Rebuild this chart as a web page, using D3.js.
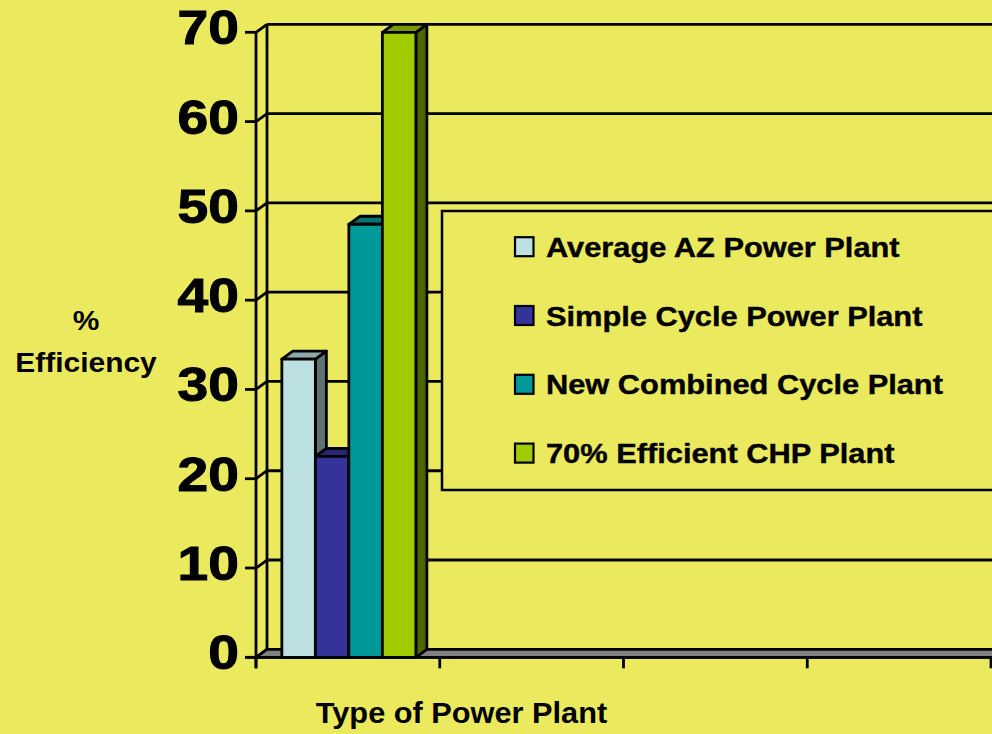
<!DOCTYPE html>
<html><head><meta charset="utf-8">
<script src="https://cdn.jsdelivr.net/npm/d3@7"></script>
<style>html,body{margin:0;padding:0;background:#EBEA5F;overflow:hidden}</style>
</head><body>
<svg id="c" width="992" height="734"></svg>
<script>
const seriesNames = ["Average AZ Power Plant","Simple Cycle Power Plant","New Combined Cycle Plant","70% Efficient CHP Plant"];
const seriesValues = [33.4, 22.5, 48.5, 70];
const seriesColors = ["#BDE0E3","#333399","#009999","#A0CC00"];
const sideColors = ["#5F7373","#1A1A4D","#004D4D","#4D6600"];
const topColors = ["#8EA8AA","#262673","#007373","#789900"];
const yTicks = [0,10,20,30,40,50,60,70];
const categorySlots = [0,1,2,3,4];
const yTitle = ["%","Efficiency"];
const xTitle = "Type of Power Plant";

const W = 992, H = 734;
const bg = "#EBEA5F";
const font = "'Liberation Sans', Arial, Helvetica, sans-serif";
const svg = d3.select("#c");
svg.append("rect").attr("width",W).attr("height",H).attr("fill",bg);

const DX = 11, DY = -8;
const y = d3.scaleLinear().domain([0,70]).range([657.3,32.3]);
const x = d3.scaleLinear().domain([0,4]).range([256,991]);
const xb = d3.scaleBand().domain(seriesNames).range([x(0),x(1)]).paddingInner(0).paddingOuter(0.742).align(0.52);
const SW = 2.8;
const right = W + 30;

const g = svg.append("g");
yTicks.forEach(t => {
  const yy = y(t);
  if (t > 0) g.append("line").attr("x1",x(0)+DX).attr("x2",right).attr("y1",yy+DY).attr("y2",yy+DY)
      .attr("stroke","#000").attr("stroke-width",SW);
  g.append("line").attr("x1",x(0)).attr("y1",yy).attr("x2",x(0)+DX).attr("y2",yy+DY)
      .attr("stroke","#000").attr("stroke-width",SW);
  g.append("line").attr("x1",x(0)-11).attr("x2",x(0)).attr("y1",yy).attr("y2",yy)
      .attr("stroke","#000").attr("stroke-width",SW);
});
g.append("line").attr("x1",x(0)+DX).attr("x2",x(0)+DX).attr("y1",y(70)+DY).attr("y2",y(0)+DY).attr("stroke","#000").attr("stroke-width",SW);
g.append("path").attr("d",`M${x(0)},${y(0)} L${right},${y(0)} L${right+DX},${y(0)+DY} L${x(0)+DX},${y(0)+DY} Z`)
  .attr("fill","#808080").attr("stroke","#000").attr("stroke-width",SW).attr("stroke-linejoin","round");
g.append("line").attr("x1",x(0)).attr("x2",x(0)).attr("y1",y(70)).attr("y2",y(0)+11).attr("stroke","#000").attr("stroke-width",SW);
g.append("line").attr("x1",x(0)-11).attr("x2",right).attr("y1",y(0)).attr("y2",y(0)).attr("stroke","#000").attr("stroke-width",SW);
categorySlots.forEach(c => {
  g.append("line").attr("x1",x(c)).attr("x2",x(c)).attr("y1",y(0)).attr("y2",y(0)+11).attr("stroke","#000").attr("stroke-width",SW);
});

const bars = svg.append("g").attr("stroke","#000").attr("stroke-width",SW).attr("stroke-linejoin","round");
seriesNames.forEach((s,i) => {
  const x0 = xb(s), x1 = xb(s)+xb.bandwidth(), yt = y(seriesValues[i]), yb = y(0);
  bars.append("path").attr("d",`M${x1},${yt} L${x1+DX},${yt+DY} L${x1+DX},${yb+DY} L${x1},${yb} Z`).attr("fill",sideColors[i]);
  bars.append("path").attr("d",`M${x0},${yt} L${x0+DX},${yt+DY} L${x1+DX},${yt+DY} L${x1},${yt} Z`).attr("fill",topColors[i]);
  bars.append("rect").attr("x",x0).attr("y",yt).attr("width",x1-x0).attr("height",yb-yt).attr("fill",seriesColors[i]);
});

const lg = svg.append("g");
lg.append("rect").attr("x",442).attr("y",211).attr("width",right-442).attr("height",279)
  .attr("fill",bg).attr("stroke","#000").attr("stroke-width",2.5);
seriesNames.forEach((s,i) => {
  const by = 256.7 + i*68.8;
  lg.append("rect").attr("x",515).attr("y",by-19.5).attr("width",18.5).attr("height",19)
    .attr("fill",seriesColors[i]).attr("stroke","#000").attr("stroke-width",2.2);
  lg.append("text").attr("transform",`translate(546,${by}) scale(1.1,1)`)
    .attr("font-family",font).attr("font-weight","bold").attr("font-size",28).attr("fill","#000")
    .attr("stroke","#000").attr("stroke-width",0.4).text(s);
});

yTicks.forEach(t => {
  svg.append("text").attr("transform",`translate(239,${y(t)+12}) scale(1.15,1)`)
    .attr("text-anchor","end").attr("font-family",font).attr("font-weight","bold").attr("font-size",48)
    .attr("fill","#000").attr("stroke","#000").attr("stroke-width",1).text(t);
});
yTitle.forEach((t,i) => {
  svg.append("text").attr("transform",`translate(86,${330 + i*41.7}) scale(1.07,1)`)
    .attr("text-anchor","middle").attr("font-family",font).attr("font-weight","bold").attr("font-size",28)
    .attr("fill","#000").text(t);
});
svg.append("text").attr("transform",`translate(461.5,723) scale(1.06,1)`)
  .attr("text-anchor","middle").attr("font-family",font).attr("font-weight","bold").attr("font-size",29)
  .attr("fill","#000").text(xTitle);
</script>
</body></html>
